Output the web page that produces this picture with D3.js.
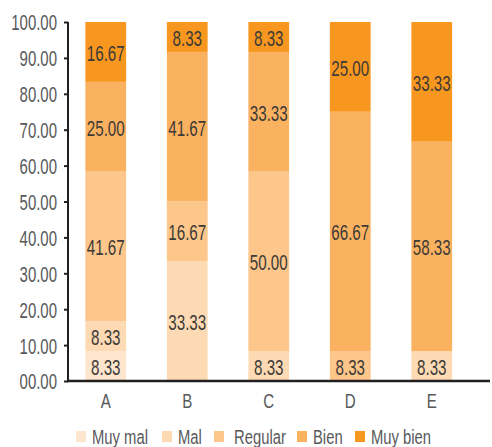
<!DOCTYPE html>
<html>
<head>
<meta charset="utf-8">
<script src="https://cdn.jsdelivr.net/npm/d3@7"></script>
<style>
  body { margin: 0; background: #fff; overflow: hidden; }
  text { font-family: "Liberation Sans", Arial, sans-serif; }
</style>
</head>
<body>
<div></div>
<script>
const width = 492;
const height = 447;

const categories = ["A", "B", "C", "D", "E"];
const seriesNames = ["Muy mal", "Mal", "Regular", "Bien", "Muy bien"];
const muyMal = [8.33, 0, 0, 0, 0];
const mal = [8.33, 33.33, 8.33, 0, 8.33];
const regular = [41.67, 16.67, 50.0, 8.33, 0];
const bien = [25.0, 41.67, 33.33, 66.67, 58.33];
const muyBien = [16.67, 8.33, 8.33, 25.0, 33.33];
const yTicks = [0, 10, 20, 30, 40, 50, 60, 70, 80, 90, 100];
const colours = ["#fde6cd", "#fddab4", "#fdc68a", "#fbb260", "#f7971f"];

const seriesValues = [muyMal, mal, regular, bien, muyBien];

// tabla para d3.stack
const table = categories.map((c, i) => {
  const row = { cat: c };
  seriesNames.forEach((s, j) => (row[s] = seriesValues[j][i]));
  return row;
});

const stacked = d3.stack().keys(seriesNames)(table);

// la fuente original es condensada: se comprime el texto horizontalmente
function condense(sel, k) {
  sel.each(function () {
    const w = this.getComputedTextLength();
    this.setAttribute("textLength", w * k);
    this.setAttribute("lengthAdjust", "spacingAndGlyphs");
  });
}

const svg = d3
  .select("div")
  .append("svg")
  .attr("width", width)
  .attr("height", height);

const x = d3
  .scaleBand()
  .domain(categories)
  .range([65, 472.5])
  .paddingInner(0.5)
  .paddingOuter(0.25);

const y = d3.scaleLinear().domain([0, 100]).range([381, 22]);

// barras
svg
  .append("g")
  .selectAll("g")
  .data(stacked)
  .enter()
  .append("g")
  .attr("fill", (d, i) => colours[i])
  .selectAll("rect")
  .data((d) => d)
  .enter()
  .append("rect")
  .attr("x", (d) => x(d.data.cat))
  .attr("y", (d) => y(d[1]))
  .attr("width", x.bandwidth())
  .attr("height", (d) => y(d[0]) - y(d[1]));

// etiquetas de valores
const labels = svg
  .append("g")
  .selectAll("g")
  .data(stacked)
  .enter()
  .append("g")
  .selectAll("text")
  .data((d) => d.filter((p) => p[1] - p[0] > 0))
  .enter()
  .append("text")
  .attr("x", (d) => x(d.data.cat) + x.bandwidth() / 2)
  .attr("y", (d) => (y(d[0]) + y(d[1])) / 2 + 9)
  .attr("text-anchor", "middle")
  .attr("font-size", 22)
  .attr("fill", "#3d3a37")
  .text((d) => (d[1] - d[0]).toFixed(2));
condense(labels, 0.69);

// eje y
const yAxis = d3
  .axisLeft(y)
  .tickValues(yTicks)
  .tickSize(4)
  .tickPadding(7)
  .tickFormat((d) => (d < 10 ? "0" + d.toFixed(2) : d.toFixed(2)));

const gy = svg.append("g").attr("transform", "translate(68,0)").call(yAxis);
gy.select(".domain").attr("stroke", "#231f20").attr("stroke-width", 2).attr("d", "M0,22V382");
gy.selectAll(".tick line").attr("stroke", "#231f20").attr("stroke-width", 2);
gy.selectAll(".tick text")
  .attr("font-size", 22)
  .attr("fill", "#58595b")
  .attr("font-family", null)
  .attr("dy", "0.36em");
condense(gy.selectAll(".tick text"), 0.68);

// eje x
const xAxis = d3.axisBottom(x).tickSize(0).tickPadding(12);
const gx = svg.append("g").attr("transform", "translate(0,381)").call(xAxis);
gx.select(".domain").attr("stroke", "#231f20").attr("stroke-width", 2.5).attr("d", "M67,0H490");
gx.selectAll(".tick text")
  .attr("font-size", 21)
  .attr("fill", "#58595b")
  .attr("font-family", null);
condense(gx.selectAll(".tick text"), 0.72);

// leyenda
const legendX = [76, 162, 214, 297, 355];
const legend = svg
  .append("g")
  .selectAll("g")
  .data(seriesNames)
  .enter()
  .append("g")
  .attr("transform", (d, i) => "translate(" + legendX[i] + ",431)");

legend
  .append("rect")
  .attr("width", 10)
  .attr("height", 11)
  .attr("fill", (d, i) => colours[i]);

const legendText = legend
  .append("text")
  .attr("x", (d, i) => (i === 2 ? 20 : 16))
  .attr("y", 13)
  .attr("font-size", 20)
  .attr("fill", "#58595b")
  .text((d) => d);
condense(legendText, 0.74);
</script>
</body>
</html>
